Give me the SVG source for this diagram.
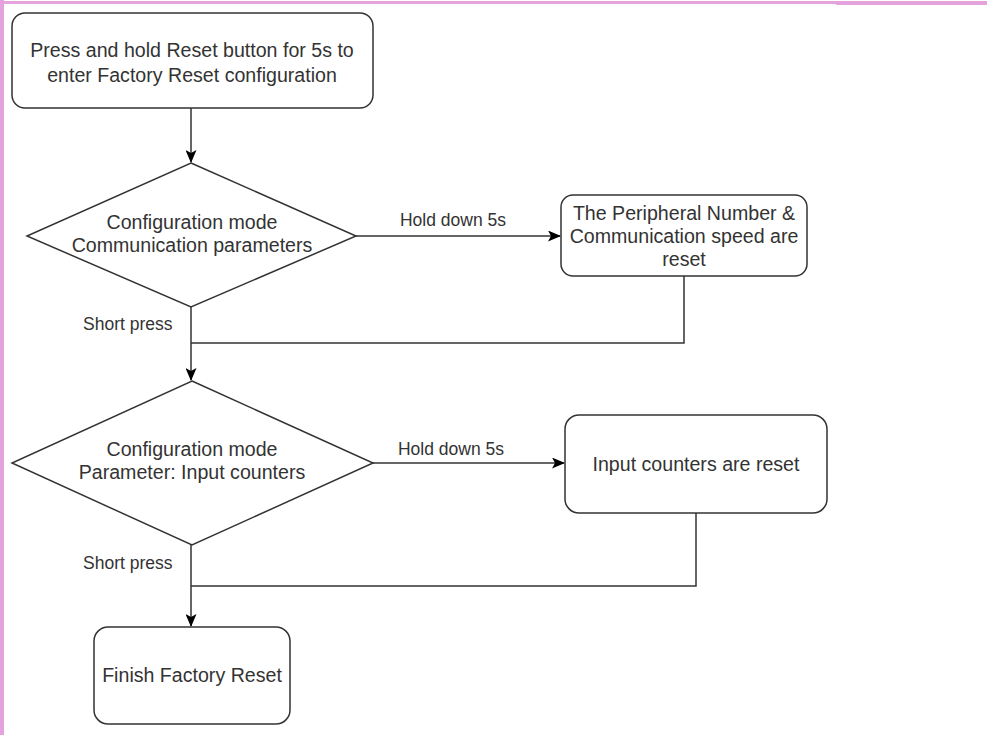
<svg xmlns="http://www.w3.org/2000/svg" width="1000" height="735" viewBox="0 0 1000 735">
<style>
.node{fill:#fff;stroke:#333;stroke-width:1.5}
.t{font-family:"Liberation Sans",Arial,sans-serif;font-size:19.6px;fill:#333;text-anchor:middle}
.lbl{font-family:"Liberation Sans",Arial,sans-serif;font-size:17.5px;fill:#333}
.edge{fill:none;stroke:#333;stroke-width:1.5}
</style>
<defs>
<marker id="arr" viewBox="0 0 13 11" refX="12" refY="5.5" markerWidth="13" markerHeight="11" markerUnits="userSpaceOnUse" orient="auto">
<path d="M0,0 L13,5.5 L0,11 L3,5.5 Z" fill="#000"/>
</marker>
</defs>
<rect width="1000" height="735" fill="#fff"/>
<g id="frame">
<rect x="0" y="1" width="836" height="3" fill="#e4a3dc"/>
<rect x="836" y="1" width="151" height="4" fill="#e4a3dc"/>
<rect x="0" y="0" width="4" height="735" fill="#e4a3dc"/>
</g>
<g id="connectors">
<path class="edge" d="M191,108 V162" marker-end="url(#arr)"/>
<path class="edge" d="M356,236 H560" marker-end="url(#arr)"/>
<path class="edge" d="M191,307 V380" marker-end="url(#arr)"/>
<path class="edge" d="M684,276 V343 H191"/>
<path class="edge" d="M373,463 H564" marker-end="url(#arr)"/>
<path class="edge" d="M191,545 V626" marker-end="url(#arr)"/>
<path class="edge" d="M696,513 V586 H191"/>
<text class="lbl" x="453" y="226" text-anchor="middle">Hold down 5s</text>
<text class="lbl" x="83" y="330">Short press</text>
<text class="lbl" x="451" y="455" text-anchor="middle">Hold down 5s</text>
<text class="lbl" x="83" y="569">Short press</text>
</g>
<g id="start">
<rect class="node" x="12" y="13" width="361" height="95" rx="13"/>
<text class="t" x="192" y="57">Press and hold Reset button for 5s to</text>
<text class="t" x="192" y="82">enter Factory Reset configuration</text>
</g>
<g id="decision1">
<polygon class="node" points="191,163 356,236 191,307 27,236"/>
<text class="t" x="192" y="229">Configuration mode</text>
<text class="t" x="192" y="252">Communication parameters</text>
</g>
<g id="reset1">
<rect class="node" x="561" y="195" width="246" height="81" rx="12"/>
<text class="t" x="684" y="220">The Peripheral Number &amp;</text>
<text class="t" x="684" y="243">Communication speed are</text>
<text class="t" x="684" y="266">reset</text>
</g>
<g id="decision2">
<polygon class="node" points="192,381 373,463 192,545 12,463"/>
<text class="t" x="192" y="456">Configuration mode</text>
<text class="t" x="192" y="479">Parameter: Input counters</text>
</g>
<g id="reset2">
<rect class="node" x="565" y="415" width="262" height="98" rx="14"/>
<text class="t" x="696" y="471">Input counters are reset</text>
</g>
<g id="finish">
<rect class="node" x="94" y="627" width="196" height="97" rx="14"/>
<text class="t" x="192" y="682">Finish Factory Reset</text>
</g>
</svg>
